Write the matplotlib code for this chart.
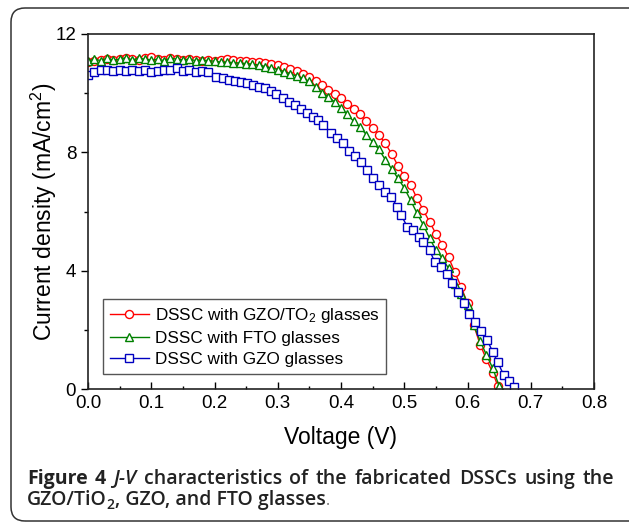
import matplotlib
matplotlib.use('Agg')
import matplotlib.pyplot as plt
from matplotlib import font_manager as fm
from matplotlib.patches import FancyBboxPatch
from matplotlib.ticker import MultipleLocator
from matplotlib.transforms import IdentityTransform

plt.rcParams['font.family'] = ['Liberation Sans', 'DejaVu Sans']
plt.rcParams['mathtext.fontset'] = 'custom'
plt.rcParams['mathtext.rm'] = 'Liberation Sans'
plt.rcParams['mathtext.it'] = 'Liberation Sans:italic'

# ---------------- data ----------------
red_v = [0.00, 0.01, 0.02, 0.03, 0.04, 0.05, 0.06, 0.07, 0.08, 0.09,
         0.10, 0.11, 0.12, 0.13, 0.14, 0.15, 0.16, 0.17, 0.18, 0.19,
         0.20, 0.21, 0.22, 0.23, 0.24, 0.25, 0.26, 0.27, 0.28, 0.29,
         0.30, 0.31, 0.32, 0.33, 0.34, 0.35, 0.36, 0.37, 0.38, 0.39,
         0.40, 0.41, 0.42, 0.43, 0.44, 0.45, 0.46, 0.47, 0.48, 0.49,
         0.50, 0.51, 0.52, 0.53, 0.54, 0.55, 0.56, 0.57, 0.58, 0.59,
         0.60, 0.61, 0.62, 0.63, 0.64, 0.648]
red_j = [11.05, 11.10, 11.12, 11.15, 11.12, 11.15, 11.18, 11.15, 11.12, 11.18,
         11.22, 11.15, 11.12, 11.18, 11.15, 11.12, 11.15, 11.12, 11.10, 11.12,
         11.08, 11.12, 11.15, 11.12, 11.10, 11.08, 11.06, 11.04, 11.02, 10.98,
         10.94, 10.88, 10.82, 10.75, 10.66, 10.55, 10.42, 10.28, 10.12, 9.98,
         9.82, 9.65, 9.48, 9.28, 9.05, 8.82, 8.60, 8.30, 7.95, 7.55,
         7.20, 6.90, 6.45, 6.05, 5.65, 5.25, 4.88, 4.45, 3.95, 3.45,
         2.90, 2.15, 1.50, 1.00, 0.55, 0.10]

green_v = [0.00, 0.01, 0.02, 0.03, 0.04, 0.05, 0.06, 0.07, 0.08, 0.09,
           0.10, 0.11, 0.12, 0.13, 0.14, 0.15, 0.16, 0.17, 0.18, 0.19,
           0.20, 0.21, 0.22, 0.23, 0.24, 0.25, 0.26, 0.27, 0.28, 0.29,
           0.30, 0.31, 0.32, 0.33, 0.34, 0.35, 0.36, 0.37, 0.38, 0.39,
           0.40, 0.41, 0.42, 0.43, 0.44, 0.45, 0.46, 0.47, 0.48, 0.49,
           0.50, 0.51, 0.52, 0.53, 0.54, 0.55, 0.56, 0.57, 0.58, 0.59,
           0.60, 0.61, 0.62, 0.63, 0.64, 0.65]
green_j = [11.08, 11.15, 11.10, 11.18, 11.12, 11.15, 11.20, 11.12, 11.18, 11.15,
           11.12, 11.15, 11.10, 11.18, 11.15, 11.12, 11.15, 11.10, 11.12, 11.10,
           11.08, 11.05, 11.05, 11.03, 11.02, 11.00, 10.98, 10.95, 10.90, 10.85,
           10.80, 10.72, 10.65, 10.58, 10.50, 10.40, 10.20, 10.02, 9.88, 9.70,
           9.50, 9.28, 9.05, 8.85, 8.60, 8.35, 8.10, 7.75, 7.45, 7.12,
           6.80, 6.38, 5.95, 5.55, 5.10, 4.70, 4.42, 4.08, 3.55, 3.20,
           2.85, 2.15, 1.62, 1.15, 0.70, 0.10]

blue_v = [0.00, 0.01, 0.02, 0.03, 0.04, 0.05, 0.06, 0.07, 0.08, 0.09,
          0.10, 0.11, 0.12, 0.13, 0.14, 0.15, 0.16, 0.17, 0.18, 0.19,
          0.203, 0.213, 0.223, 0.232, 0.242, 0.251, 0.261, 0.270, 0.280, 0.289,
          0.298, 0.308, 0.318, 0.327, 0.336, 0.346, 0.355, 0.364, 0.372, 0.384,
          0.394, 0.403, 0.413, 0.422, 0.431, 0.441, 0.451, 0.460, 0.470, 0.479,
          0.489, 0.495, 0.505, 0.514, 0.524, 0.530, 0.540, 0.548, 0.558, 0.567,
          0.575, 0.585, 0.595, 0.603, 0.612, 0.621, 0.631, 0.640, 0.648, 0.657,
          0.666, 0.674]
blue_j = [10.62, 10.72, 10.78, 10.80, 10.75, 10.78, 10.74, 10.80, 10.76, 10.78,
          10.72, 10.76, 10.80, 10.78, 10.84, 10.76, 10.78, 10.72, 10.76, 10.72,
          10.56, 10.50, 10.45, 10.42, 10.38, 10.34, 10.28, 10.22, 10.16, 10.08,
          9.96, 9.82, 9.71, 9.60, 9.48, 9.32, 9.20, 9.10, 8.92, 8.64,
          8.50, 8.32, 8.06, 7.86, 7.66, 7.40, 7.12, 6.89, 6.67, 6.50,
          6.16, 5.88, 5.48, 5.37, 5.15, 4.98, 4.70, 4.30, 4.13, 3.90,
          3.58, 3.27, 2.90, 2.54, 2.25, 1.95, 1.66, 1.25, 0.90, 0.48,
          0.27, 0.08]

labels = ["DSSC with GZO/TO$_2$ glasses", "DSSC with FTO glasses", "DSSC with GZO glasses"]
colors = ["#ff0000", "#008000", "#0000c0"]
markers = ["o", "^", "s"]

x_ticks = [0.0, 0.1, 0.2, 0.3, 0.4, 0.5, 0.6, 0.7, 0.8]
y_ticks = [0, 4, 8, 12]

# ---------------- caption font choice ----------------
def pick_semibold():
    for fam in ("Open Sans", "Noto Sans", "Lato", "Inter"):
        for f in fm.fontManager.ttflist:
            wt = f.weight if isinstance(f.weight, int) else {'semibold': 600, 'demibold': 600}.get(str(f.weight).lower(), 0)
            if f.name == fam and wt == 600 and f.style == 'normal':
                return fam, 600
    for f in fm.fontManager.ttflist:
        if 'semibold' in f.name.lower() and 'open sans' in f.name.lower():
            return f.name, 'normal'
    return "Open Sans", 'bold'

cfont, cweight = pick_semibold()

# ---------------- figure ----------------
W, H = 629, 523
fig = plt.figure(figsize=(W / 100, H / 100), dpi=100)

frame = FancyBboxPatch((11, 2), 660, 513, boxstyle="round,pad=0,rounding_size=14",
                       transform=IdentityTransform(), fill=False,
                       edgecolor="#333333", linewidth=1.1, zorder=0)
fig.patches.append(frame)

ax = fig.add_axes([88 / W, 1 - 389 / H, (594 - 88) / W, (389 - 34) / H])

series = [(red_v, red_j), (green_v, green_j), (blue_v, blue_j)]
for (v, j), lab, c, m in zip(series, labels, colors, markers):
    ax.plot(v, j, color=c, marker=m, markersize=5.8, markerfacecolor="white",
            markeredgecolor=c, markeredgewidth=1.0, linewidth=1.0, label=lab)

ax.set_xlim(0, 0.8)
ax.set_ylim(0, 12)
ax.set_xticks(x_ticks)
ax.set_xticklabels([f"{t:.1f}" for t in x_ticks])
ax.set_yticks(y_ticks)
ax.set_yticklabels([str(t) for t in y_ticks])
ax.xaxis.set_minor_locator(MultipleLocator(0.05))
ax.yaxis.set_minor_locator(MultipleLocator(2))
ax.tick_params(axis='x', which='major', direction='in', length=5, width=1.0,
               pad=4, labelsize=13.5)
ax.tick_params(axis='x', which='minor', direction='in', length=2.5, width=1.0)
ax.tick_params(axis='y', which='major', direction='out', length=5, width=1.0,
               pad=3.5, labelsize=13.5)
ax.tick_params(axis='y', which='minor', direction='out', length=3, width=1.0)
for s in ax.spines.values():
    s.set_linewidth(1.2)
    s.set_color("#222222")

ax.set_xlabel("Voltage (V)", fontsize=16.5)
ax.set_ylabel("Current density (mA/cm$^2$)", fontsize=16.5)
ax.xaxis.set_label_coords(0.5, -0.104)
ax.yaxis.set_label_coords(-0.057, 0.5)

leg = ax.legend(loc="lower left", bbox_to_anchor=(0.029, 0.042), borderaxespad=0,
                fontsize=12.3, frameon=True, fancybox=False, framealpha=1,
                edgecolor="#555555", handlelength=2.3, handletextpad=0.35,
                labelspacing=0.35, borderpad=0.4)
leg.get_frame().set_linewidth(1.0)

# ---------------- caption ----------------
cap_color = "#222222"
fig.canvas.draw()
r = fig.canvas.get_renderer()
T = IdentityTransform()

def mk(s, x, y, size, **kw):
    kw.setdefault('family', cfont)
    kw.setdefault('color', cap_color)
    kw.setdefault('fontweight', cweight)
    return fig.text(x, y, s, transform=T, ha='left', va='baseline', fontsize=size, **kw)

def w(t):
    return t.get_window_extent(renderer=r).width

x0, x1 = 27, 614
y1 = H - 484
y2 = H - 505

# determine size so that line 2 ("... glasses") ends near x=328
probe = mk("GZO/TiO2, GZO, and FTO glasses", 0, -100, 12.0)
size = 12.0 * (328 - x0) / w(probe)
probe.remove()

line1 = [("Figure", dict(fontweight='bold')), ("4", dict(fontweight='bold')),
         ("J-V", dict(style='italic')), ("characteristics", {}), ("of", {}),
         ("the", {}), ("fabricated", {}), ("DSSCs", {}), ("using", {}), ("the", {})]
objs = [mk(s, 0, y1, size, **kw) for s, kw in line1]
widths = [w(o) for o in objs]
gap = (x1 - x0 - sum(widths)) / (len(objs) - 1)
x = x0
for o, wd in zip(objs, widths):
    o.set_x(x)
    x += wd + gap

a = mk("GZO/TiO", x0, y2, size)
x = x0 + w(a)
b = mk("2", x, y2 - 4, size * 0.72)
x += w(b)
c = mk(", GZO, and FTO glasses", x, y2, size)
x += w(c)
mk(".", x, y2, size * 0.8, fontweight='normal', color="#777777")

fig.savefig("out.png", dpi=100)
